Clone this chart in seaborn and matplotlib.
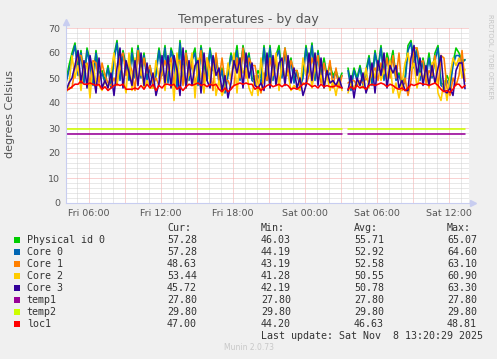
import numpy as np
import pandas as pd
import matplotlib
matplotlib.use("Agg")
import matplotlib.pyplot as plt
import matplotlib.dates as mdates
from matplotlib.patches import Rectangle
from matplotlib.lines import Line2D
import seaborn as sns

nan = np.nan

# ---------------- data ----------------
times = pd.date_range("2025-11-07 04:05", "2025-11-08 13:20", freq="15min")

physical_id_0 = [
    49,
    55, 60, 64, 54, 61, 49, 62, 57,
    49, 61, 52, 53, 49, 55, 48, 59, 65, 52,
    61, 55, 50, 62, 52, 63, 53, 60, 50, 55,
    48, 53, 62, 54, 63, 49, 62, 58, 48, 65,
    52, 61, 50, 58, 62, 49, 63, 55, 50, 62,
    54, 59, 50, 54, 47, 52, 60, 55, 63, 51,
    63, 56, 60, 50, 49, 53, 50, 63, 52, 63,
    50, 59, 63, 52, 62, 54, 58, 49, 53, 48,
    52, 63, 55, 64, 50, 61, 51, 58, 51, 55,
    51, 53, 49,
    52,
    nan,
    54, 48, 54, 50, 55,
    49, 53, 59, 50, 61, 54, 63, 51, 60, 55,
    61, 50, 52, 48, 50, 63, 65, 57, 62, 50,
    58, 52, 60, 51, 60, 63, 48, 47, 51, 48,
    56, 62, 60,
    57, 57.28]

core_0 = [
    48,
    53, 58, 63, 51, 60, 48, 61, 55,
    47, 60, 49, 52, 48, 54, 46, 57, 64, 49,
    60, 54, 49, 60, 50, 62, 50, 59, 49, 54,
    46, 51, 61, 51, 62, 48, 61, 56, 46, 64,
    49, 60, 49, 57, 60, 47, 62, 52, 49, 61,
    53, 57, 48, 53, 44, 51, 59, 54, 61, 49,
    62, 53, 59, 49, 48, 51, 48, 62, 49, 62,
    49, 58, 61, 50, 61, 51, 57, 48, 52, 46,
    50, 62, 52, 63, 49, 60, 49, 56, 50, 52,
    50, 52, 48,
    51,
    nan,
    53, 45, 53, 49, 54,
    47, 51, 58, 47, 60, 53, 62, 49, 58, 54,
    58, 49, 51, 47, 48, 61, 64, 54, 61, 49,
    57, 50, 58, 50, 57, 62, 47, 46, 49, 46,
    55, 59, 59,
    56, 57.28]

core_1 = [
    45,
    46, 46, 54, 59, 59, 53, 56, 47, 57, 56,
    48, 56, 51, 48, 47, 50, 47, 58, 60, 51,
    56, 53, 45, 61, 51, 58, 52, 55, 48, 50,
    47, 52, 57, 53, 58, 47, 57, 57, 47, 60,
    51, 56, 48, 53, 61, 48, 58, 54, 45, 60,
    49, 58, 49, 49, 46, 47, 58, 50, 62, 50,
    58, 55, 55, 48, 44, 52, 49, 58, 51, 58,
    48, 54, 62, 51, 57, 53, 53, 47, 48, 47,
    51, 58, 54, 59, 48, 56, 50, 57, 46, 54,
    46, 51,
    nan,
    48,
    49, 49, 47, 49, 48, 50,
    48, 52, 54, 49, 56, 52, 58, 50, 59, 50,
    60, 45, 50, 43, 49, 62, 62, 56, 57, 48,
    53, 51, 59, 46, 59, 58, 46, 43, 50, 47,
    51, 61,
    48.63]

core_2 = [
    44, 47,
    59, 50, 55, 45, 56, 55,
    42, 56, 48, 47, 45, 49, 46, 52, 60, 48,
    55, 51, 44, 60, 45, 58, 49, 54, 46, 49,
    46, 46, 57, 50, 57, 45, 56, 56, 41, 60,
    48, 55, 46, 52, 60, 42, 58, 51, 44, 58,
    48, 57, 43, 49, 43, 46, 56, 49, 60, 44,
    58, 52, 54, 46, 43, 51, 43, 58, 48, 57,
    46, 53, 60, 45, 57, 50, 52, 45, 47, 46,
    45, 58, 51, 58, 46, 55, 49, 51, 46, 51,
    45, 49, 43,
    50, 45,
    nan,
    44, 48, 46, 49,
    47, 46, 54, 46, 55, 50, 57, 49, 53, 50,
    57, 44, 48, 42, 48, 56, 60, 53, 56, 46,
    52, 50, 53, 46, 56, 57, 44, 41, 49, 41,
    51, 58,
    55, 58, 50, 53.44]

core_3 = [
    45, 48, 50, 55, 61, 48, 57, 46, 59, 52,
    44, 58, 46, 49, 46, 52, 43, 54, 62, 46,
    57, 52, 47, 57, 47, 60, 47, 56, 47, 52,
    43, 48, 59, 48, 59, 46, 59, 53, 43, 62,
    46, 57, 47, 55, 57, 44, 60, 49, 46, 59,
    51, 54, 45, 51, 42, 48, 57, 52, 58, 46,
    60, 50, 56, 47, 46, 48, 45, 60, 46, 59,
    47, 56, 58, 47, 59, 48, 54, 46, 50, 43,
    47, 60, 49, 60, 47, 58, 46, 53, 48, 49,
    47, 50, 46, nan, 45, 51, 42, 50, 47, 52,
    44, 48, 56, 44, 57, 51, 60, 46, 55, 52,
    55, 46, 49, 45, 45, 58, 63, 51, 58, 47,
    55, 47, 55, 48, 54, 59, 45, 44, 46, 43,
    53, 56, 56, 45.72]

temp1 = [27.8] * 93 + [nan] + [27.8] * 40
temp2 = [29.8] * 93 + [nan] + [29.8] * 40

loc1 = [
    45.0, 45.5, 46.5, 47.5, 47.5, 48.8, 47.5, 47.5, 48.0, 47.5, 47.0, 47.5,
    45.5, 46.5, 45.0, 46.0,
    47.0, 47.5, 47.0, 47.5,
    45.5, 45.5, 45.5, 46.0, 45.5,
    47.0, 45.5, 47.5, 46.0, 47.5, 45.0, 47.0, 46.0, 47.5,
    47.5, 47.0, 47.5,
    45.5, 46.5, 45.0, 46.5,
    47.5, 47.0, 47.5, 48.0, 47.0, 47.5, 46.5, 47.5, 47.0, 47.5,
    45.5, 44.5, 46.0, 44.5, 45.5,
    47.0, 47.5, 48.0, 47.5, 48.0, 47.5, 47.5,
    45.5, 46.5, 45.0, 46.0, 47.0,
    47.5, 46.5, 47.0, 47.5, 46.5, 47.5, 47.0,
    45.5, 46.0, 45.5, 46.5,
    47.5, 48.0, 47.5,
    46.5, 47.0, 46.0, 47.5, 46.5, 47.0, 46.5,
    46.5, 47.0, 46.5, 46.0,
    nan,
    45.5, 46.5, 45.5, 47.0, 46.0, 46.5, 45.5, 47.0,
    47.5, 47.0, 47.5, 48.0, 47.5, 46.5, 47.5, 47.0, 46.0,
    45.5, 46.0, 45.0, 46.0,
    47.5, 47.0, 47.5, 48.0, 47.5, 47.5, 47.0, 47.5, 48.0, 47.0,
    45.5, 44.5, 45.0, 44.2, 45.5,
    47.5, 47.5, 46.0, 47.0]

series_names = ["Physical id 0", "Core 0", "Core 1", "Core 2", "Core 3",
                "temp1", "temp2", "loc1"]
series_colors = ["#00cc00", "#0066b3", "#ff8000", "#ffcc00", "#330099",
                 "#990099", "#ccff00", "#ff0000"]
cur_values = [57.28, 57.28, 48.63, 53.44, 45.72, 27.80, 29.80, 47.00]
min_values = [46.03, 44.19, 43.19, 41.28, 42.19, 27.80, 29.80, 44.20]
avg_values = [55.71, 52.92, 52.58, 50.55, 50.78, 27.80, 29.80, 46.63]
max_values = [65.07, 64.60, 63.10, 60.90, 63.30, 27.80, 29.80, 48.81]

y_ticks = [0, 10, 20, 30, 40, 50, 60, 70]
x_tick_labels = ["Fri 06:00", "Fri 12:00", "Fri 18:00",
                 "Sat 00:00", "Sat 06:00", "Sat 12:00"]

all_series = [physical_id_0, core_0, core_1, core_2, core_3, temp1, temp2, loc1]
for s in all_series:
    assert len(s) == len(times), len(s)
    assert np.isnan(s[93])

# ---------------- long table ----------------
rows = []
for name, vals in zip(series_names, all_series):
    seg = 0
    for t, v in zip(times, vals):
        if np.isnan(v):
            seg += 1
            continue
        rows.append((t, v, name, seg))
df = pd.DataFrame(rows, columns=["time", "value", "series", "segment"])

# ---------------- figure ----------------
sns.set_theme(style="white")
plt.rcParams["font.family"] = ["DejaVu Sans"]

W, H = 497, 359
BG = "#f0f0f0"
fig = plt.figure(figsize=(W / 100, H / 100), dpi=100, facecolor=BG)
x0, x1, ytop, ybot = 66, 469, 28, 203
ax = fig.add_axes([x0 / W, 1 - ybot / H, (x1 - x0) / W, (ybot - ytop) / H])
ax.set_facecolor("white")

sns.lineplot(data=df, x="time", y="value", hue="series", hue_order=series_names,
             palette=dict(zip(series_names, series_colors)), units="segment",
             estimator=None, sort=False, legend=False, linewidth=1.15, ax=ax)

t_start = pd.Timestamp("2025-11-07 04:05")
t_end = t_start + pd.Timedelta(minutes=(x1 - x0) * 5)
ax.set_xlim(t_start, t_end)
ax.set_ylim(0, 70)

major_x = pd.date_range("2025-11-07 06:00", "2025-11-08 12:00", freq="3h")
minor_x = pd.date_range("2025-11-07 05:00", "2025-11-08 13:00", freq="1h")
ax.set_xticks(mdates.date2num(major_x))
lbls = []
k = 0
for t in major_x:
    if t.hour % 6 == 0:
        lbls.append(x_tick_labels[k]); k += 1
    else:
        lbls.append("")
ax.set_xticklabels(lbls)
ax.set_xticks(mdates.date2num(minor_x), minor=True)
ax.set_yticks(y_ticks)
ax.set_yticks(np.arange(0, 71, 2), minor=True)

ax.set_axisbelow(True)
ax.grid(which="minor", color="#d2d2d2", linestyle=(0, (1, 1)), linewidth=0.72)
ax.grid(which="major", color="#f4a6a6", linestyle=(0, (1, 1)), linewidth=0.72)

ax.tick_params(axis="both", which="both", length=0, colors="#555555", labelsize=6.8)
ax.tick_params(axis="y", pad=4.3)
ax.tick_params(axis="x", pad=4.5)
ax.set_xlabel("")
ax.set_ylabel("")

for sp in ["top", "right"]:
    ax.spines[sp].set_visible(False)
AX_C = "#c8cdf0"
for sp in ["left", "bottom"]:
    ax.spines[sp].set_color(AX_C)
    ax.spines[sp].set_linewidth(0.8)

# axis arrows
ext_y = 6 / (ybot - ytop)
ext_x = 4 / (x1 - x0)
ax.add_line(Line2D([0, 0], [1, 1 + ext_y], transform=ax.transAxes, color=AX_C,
                   lw=0.8, clip_on=False))
ax.plot([0], [1 + ext_y], marker="^", ms=4, color=AX_C, transform=ax.transAxes,
        clip_on=False)
ax.add_line(Line2D([1, 1 + ext_x], [0, 0], transform=ax.transAxes, color=AX_C,
                   lw=0.8, clip_on=False))
ax.plot([1 + ext_x], [0], marker=">", ms=4, color=AX_C, transform=ax.transAxes,
        clip_on=False)

def fy(py):
    return 1 - py / H

def fx(px):
    return px / W

fig.text(0.5, fy(22.5), "Temperatures - by day", ha="center", va="baseline",
         fontsize=9, color="#555555")
fig.text(fx(10.5), fy(114), "degrees Celsius", rotation=90, ha="center",
         va="center", fontsize=8, color="#555555")
fig.text(fx(490), fy(14), "RRDTOOL / TOBI OETIKER", rotation=270, ha="center",
         va="top", fontsize=4.8, color="#c4c4c4")

# legend
mono = "DejaVu Sans Mono"
LC = "#333333"
fs = 7.2
cols = [167, 261, 354, 447]
base0 = 243.3
for c, h in zip(cols, ["Cur:", "Min:", "Avg:", "Max:"]):
    fig.text(fx(c), fy(base0 - 12), h, family=mono, fontsize=fs, color=LC, va="baseline")
for k, name in enumerate(series_names):
    b = base0 + 12 * k
    fig.patches.append(Rectangle((fx(14), fy(b - 0.8)), 5.5 / W, 5.3 / H,
                                 transform=fig.transFigure, facecolor=series_colors[k],
                                 edgecolor="none"))
    fig.text(fx(26.7), fy(b), name, family=mono, fontsize=fs, color=LC, va="baseline")
    for c, vals in zip(cols, [cur_values, min_values, avg_values, max_values]):
        fig.text(fx(c), fy(b), f"{vals[k]:.2f}", family=mono, fontsize=fs,
                 color=LC, va="baseline")
fig.text(fx(261), fy(base0 + 12 * 8), "Last update: Sat Nov  8 13:20:29 2025",
         family=mono, fontsize=fs, color=LC, va="baseline")
fig.text(0.5, fy(348), "Munin 2.0.73", ha="center", va="center", fontsize=5.5,
         color="#c8c8c8")

fig.savefig("out.png", dpi=100, facecolor=BG)
